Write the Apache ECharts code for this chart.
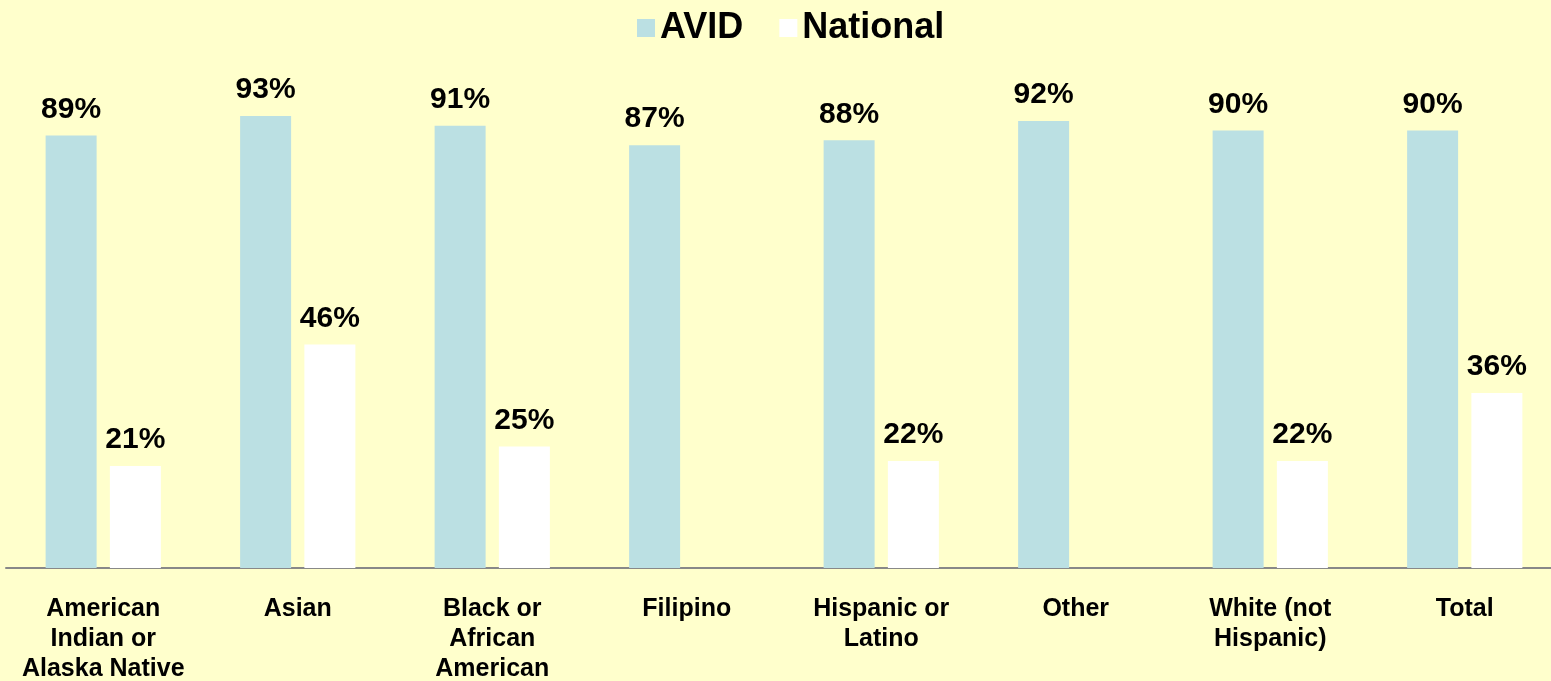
<!DOCTYPE html>
<html>
<head>
<meta charset="utf-8">
<script src="https://cdn.jsdelivr.net/npm/echarts@6/dist/echarts.min.js"></script>
<style>
html, body { margin: 0; padding: 0; background: #FFFFCC; }
#chartBar { width: 1551px; height: 681px; }
</style>
</head>
<body>
<div id="chartBar"></div>
<script>
var categories = ['American\nIndian or\nAlaska Native', 'Asian', 'Black or\nAfrican\nAmerican', 'Filipino', 'Hispanic or\nLatino', 'Other', 'White (not\nHispanic)', 'Total'];
var avidData = [89, 93, 91, 87, 88, 92, 90, 90];
var nationalData = [21, 46, 25, null, 22, null, 22, 36];

var FONT = '"Liberation Sans", Arial, sans-serif';
var myChart = echarts.init(document.getElementById('chartBar'));
var labelStyle = {
    show: true,
    position: 'top',
    distance: 11,
    formatter: '{c}%',
    color: '#000',
    fontFamily: FONT,
    fontWeight: 'bold',
    fontSize: 30
};
var option = {
    backgroundColor: '#FFFFCC',
    animation: false,
    legend: {
        top: 5,
        left: 632,
        itemWidth: 18,
        itemHeight: 18,
        itemGap: 36,
        icon: 'rect',
        textStyle: {
            color: '#000',
            fontFamily: FONT,
            fontWeight: 'bold',
            fontSize: 36
        },
        data: ['AVID', 'National']
    },
    grid: {
        top: 82,
        bottom: 113,
        left: 6,
        right: -11,
        outerBoundsMode: 'none'
    },
    xAxis: [{
        type: 'category',
        data: categories,
        axisLine: { show: true, lineStyle: { color: '#888', width: 2 } },
        axisTick: { show: false },
        axisLabel: {
            interval: 0,
            margin: 26,
            color: '#000',
            fontFamily: FONT,
            fontWeight: 'bold',
            fontSize: 25,
            lineHeight: 30
        }
    }],
    yAxis: [{
        type: 'value',
        min: 0,
        max: 100,
        show: false,
        splitLine: { show: false }
    }],
    series: [
        {
            name: 'AVID',
            type: 'bar',
            barWidth: 51,
            barGap: '26%',
            itemStyle: { color: '#BBE0E3' },
            label: labelStyle,
            data: avidData
        },
        {
            name: 'National',
            type: 'bar',
            barWidth: 51,
            itemStyle: { color: '#FFFFFF' },
            label: labelStyle,
            data: nationalData
        }
    ]
};
myChart.setOption(option);
</script>
</body>
</html>
